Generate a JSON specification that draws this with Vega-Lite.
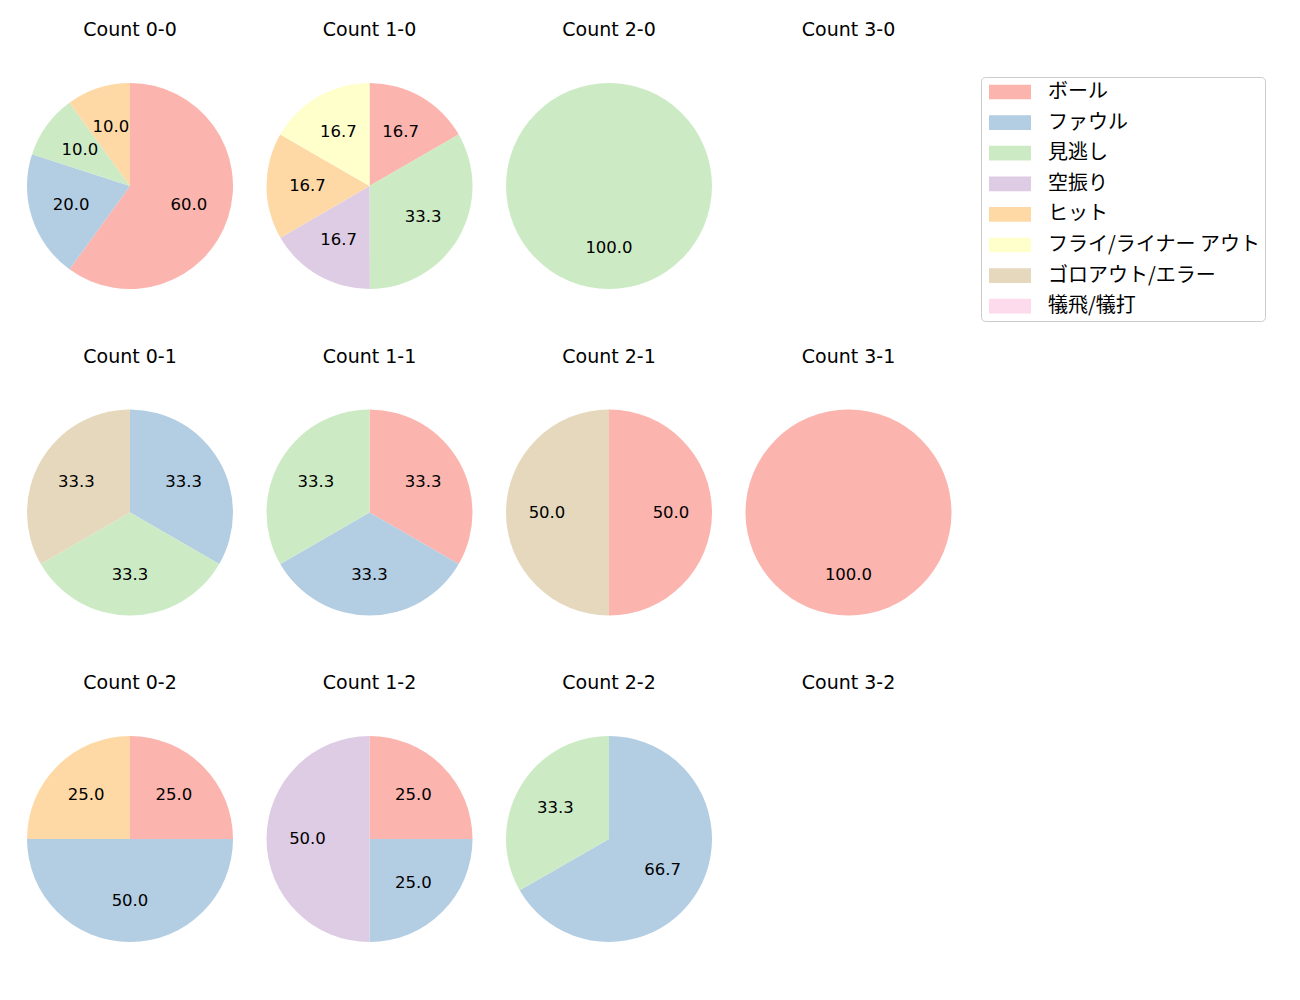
{
  "$schema": "https://vega.github.io/schema/vega-lite/v6.json",
  "padding": {"left": 27, "top": 21, "right": 0, "bottom": 0},
  "background": "white",
  "config": {"view": {"stroke": null}, "font": "DejaVu Sans"},
  "data": {"values": [
    {"count": "0-0", "cat": "ボール", "k": 0, "value": 60.0},
    {"count": "0-0", "cat": "ファウル", "k": 1, "value": 20.0},
    {"count": "0-0", "cat": "見逃し", "k": 2, "value": 10.0},
    {"count": "0-0", "cat": "ヒット", "k": 4, "value": 10.0},
    {"count": "1-0", "cat": "ボール", "k": 0, "value": 16.7},
    {"count": "1-0", "cat": "見逃し", "k": 2, "value": 33.3},
    {"count": "1-0", "cat": "空振り", "k": 3, "value": 16.7},
    {"count": "1-0", "cat": "ヒット", "k": 4, "value": 16.7},
    {"count": "1-0", "cat": "フライ/ライナー アウト", "k": 5, "value": 16.7},
    {"count": "2-0", "cat": "見逃し", "k": 2, "value": 100.0},
    {"count": "3-0", "cat": "ボール", "k": 0, "value": 0},
    {"count": "0-1", "cat": "ファウル", "k": 1, "value": 33.3},
    {"count": "0-1", "cat": "見逃し", "k": 2, "value": 33.3},
    {"count": "0-1", "cat": "ゴロアウト/エラー", "k": 6, "value": 33.3},
    {"count": "1-1", "cat": "ボール", "k": 0, "value": 33.3},
    {"count": "1-1", "cat": "ファウル", "k": 1, "value": 33.3},
    {"count": "1-1", "cat": "見逃し", "k": 2, "value": 33.3},
    {"count": "2-1", "cat": "ボール", "k": 0, "value": 50.0},
    {"count": "2-1", "cat": "ゴロアウト/エラー", "k": 6, "value": 50.0},
    {"count": "3-1", "cat": "ボール", "k": 0, "value": 100.0},
    {"count": "0-2", "cat": "ボール", "k": 0, "value": 25.0},
    {"count": "0-2", "cat": "ファウル", "k": 1, "value": 50.0},
    {"count": "0-2", "cat": "ヒット", "k": 4, "value": 25.0},
    {"count": "1-2", "cat": "ボール", "k": 0, "value": 25.0},
    {"count": "1-2", "cat": "ファウル", "k": 1, "value": 25.0},
    {"count": "1-2", "cat": "空振り", "k": 3, "value": 50.0},
    {"count": "2-2", "cat": "ファウル", "k": 1, "value": 66.7},
    {"count": "2-2", "cat": "見逃し", "k": 2, "value": 33.3},
    {"count": "3-2", "cat": "ボール", "k": 0, "value": 0}
  ]},
  "columns": 4,
  "spacing": {"column": 33.5, "row": 58.5},
  "facet": {
    "field": "count",
    "type": "nominal",
    "sort": ["0-0", "1-0", "2-0", "3-0", "0-1", "1-1", "2-1", "3-1", "0-2", "1-2", "2-2", "3-2"],
    "header": {"title": null, "labelExpr": "'Count ' + datum.value", "labelFontSize": 19, "labelColor": "black", "labelPadding": 43, "labelFont": "DejaVu Sans"}
  },
  "spec": {
    "width": 206,
    "height": 206,
    "layer": [
      {
        "mark": {"type": "arc", "outerRadius": 103},
        "encoding": {
          "theta": {"field": "value", "type": "quantitative", "stack": "normalize"},
          "order": {"field": "k", "type": "quantitative"},
          "color": {
            "field": "cat", "type": "nominal",
            "scale": {
              "domain": ["ボール", "ファウル", "見逃し", "空振り", "ヒット", "フライ/ライナー アウト", "ゴロアウト/エラー", "犠飛/犠打"],
              "range": ["#fbb4ae", "#b3cde3", "#ccebc5", "#decbe4", "#fed9a6", "#ffffcc", "#e5d8bd", "#fddaec"]
            },
            "legend": {
              "title": null, "orient": "none", "legendX": 954, "legendY": -6,
              "symbolType": "M-0.667,-0.7H3.333V0.7H-0.667Z", "symbolSize": 441, "symbolStrokeWidth": 0, "symbolOpacity": 1,
              "labelFontSize": 20, "labelColor": "black", "labelOffset": 41.5, "rowPadding": 9.6,
              "padding": 4.5, "strokeColor": "#cccccc", "cornerRadius": 4, "fillColor": "white",
              "labelFont": "Noto Sans CJK JP", "labelLimit": 400
            }
          }
        }
      },
      {
        "transform": [{"filter": "datum.value > 0"}],
        "mark": {"type": "text", "radius": 62, "fontSize": 16.5, "color": "black", "font": "DejaVu Sans"},
        "encoding": {
          "theta": {"field": "value", "type": "quantitative", "stack": "normalize"},
          "order": {"field": "k", "type": "quantitative"},
          "text": {"field": "value", "type": "quantitative", "format": ".1f"}
        }
      }
    ]
  }
}
